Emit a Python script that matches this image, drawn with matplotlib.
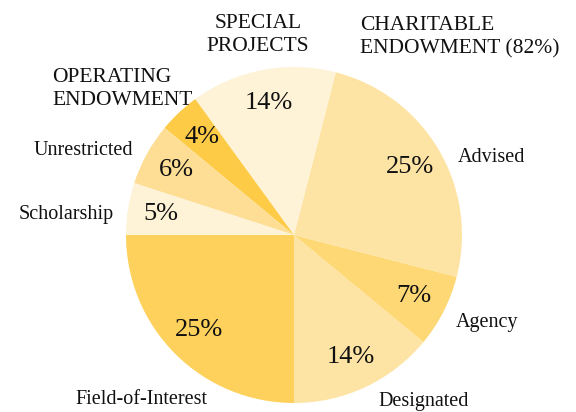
import matplotlib.pyplot as plt

# slices, counter-clockwise from the bottom
names = ["Designated", "Agency", "Advised", "SPECIAL\nPROJECTS",
         "OPERATING\nENDOWMENT", "Unrestricted", "Scholarship", "Field-of-Interest"]
shares = [14, 7, 25, 14, 4, 6, 5, 25]
colors = ["#FEE4A4", "#FED874", "#FEE4A4", "#FEF3D7",
          "#FECB47", "#FDDE94", "#FEF3D7", "#FED15C"]

# where the category names go (data units, pie radius = 1)
name_pos = [(0.77, -0.99, "center"), (1.15, -0.52, "center"), (0.976, 0.464, "left"),
            (-0.214, 1.19, "center"), (-1.44, 0.87, "left"), (-1.55, 0.506, "left"),
            (-1.64, 0.125, "left"), (-0.91, -0.98, "center")]

plt.rcParams['font.family'] = ['Liberation Serif', 'DejaVu Serif']

fig = plt.figure(figsize=(5.76, 4.12), dpi=100)
ax = fig.add_axes([0.21875, 0.0218, 0.5833, 0.8155])

wedges, texts, pcts = ax.pie(shares, colors=colors, startangle=270, counterclock=True,
                             autopct=lambda p: "%d%%" % round(p), pctdistance=0.8,
                             radius=1, wedgeprops=dict(linewidth=0))
for t in pcts:
    t.set_fontsize(19)
    t.set_color("#111111")

for name, (x, y, ha) in zip(names, name_pos):
    big = name.isupper()
    ax.text(x, y, name, ha=ha, va="center", fontsize=15.5 if big else 14.5,
            color="#111111", linespacing=1.3, clip_on=False)

ax.text(0.393, 1.18, "CHARITABLE\nENDOWMENT (82%)", ha="left", va="center",
        fontsize=15.5, color="#111111", linespacing=1.3, clip_on=False)

ax.set_xlim(-1, 1)
ax.set_ylim(-1, 1)
ax.set_aspect("auto")
ax.axis("off")

fig.savefig("out.png", dpi=100)
